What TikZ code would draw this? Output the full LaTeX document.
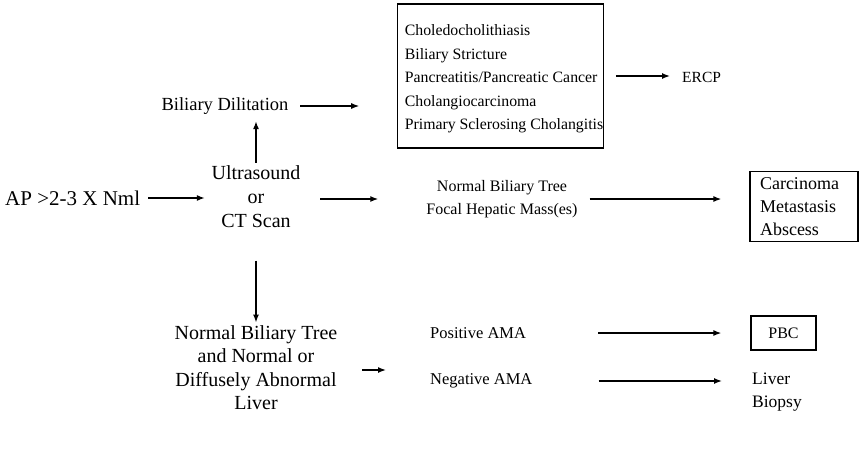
\documentclass[tikz,border=0pt]{standalone}
\usepackage{fontspec}
\setmainfont{Liberation Serif}
\usetikzlibrary{arrows.meta}
\newcommand{\fs}[2]{\fontsize{#1}{#2}\selectfont}
\begin{document}
\begin{tikzpicture}[x=1pt,y=-1pt,
  txt/.style={align=center, inner sep=0pt},
  box/.style={draw, line width=1.2pt, align=left, inner sep=0pt},
  arr/.style={-{Latex[length=8pt,width=6pt]}, line width=1.4pt}]
\useasboundingbox (0,0) rectangle (861,453);

% left column
\node[txt, anchor=west, font=\fs{21}{24}] (ap) at (5,198) {AP >2-3 X Nml};
\node[txt, font=\fs{20}{24}] (us) at (256,196.5) {Ultrasound\\or\\CT Scan};
\node[txt, font=\fs{18.5}{23}] (bd) at (225,106) {Biliary Dilitation};
\node[txt, font=\fs{20}{23.5}] (nl) at (256,367.5) {Normal Biliary Tree\\and Normal or\\Diffusely Abnormal\\Liver};

% upper branch: list of causes, text flush against the right border
\node[box, font=\fs{15.8}{23.5}, minimum width=205pt, minimum height=144pt] (causes) at (500.5,76)
  {\hspace*{7pt}\raisebox{-2pt}[\height][\depth]{\begin{tabular}{@{}l@{}}Choledocholithiasis\\Biliary Stricture\\Pancreatitis/Pancreatic Cancer\\Cholangiocarcinoma\\Primary Sclerosing Cholangitis\end{tabular}}};
\node[txt, anchor=west, font=\fs{15.5}{20}] (ercp) at (682,77.5) {ERCP};

% middle branch
\node[txt, font=\fs{16}{23.5}] (mass) at (502,199) {Normal Biliary Tree\\Focal Hepatic Mass(es)};
\node[box, font=\fs{18}{23}, inner xsep=10pt, text width=88pt, minimum height=70pt] (focal) at (804,206.5)
  {Carcinoma\\Metastasis\\Abscess};

% lower branch
\node[txt, anchor=west, font=\fs{16.5}{20}] (pos) at (430,333) {Positive AMA};
\node[txt, anchor=west, font=\fs{16.5}{20}] (neg) at (430,381) {Negative AMA};
\node[box, font=\fs{16}{20}, minimum width=65pt, minimum height=34pt, align=center] (pbc) at (783.5,333) {PBC};
\node[txt, align=left, anchor=north west, font=\fs{17.5}{23}] (bx) at (752,373) {Liver\\Biopsy};

% connectors
\draw[arr, shorten <=8pt, shorten >=6.5pt] (ap.east) -- (ap.east -| us.west);
\draw[arr, shorten <=2.5pt, shorten >=6.5pt] (us.north) -- (us.north |- bd.south);
\draw[arr, shorten <=33pt, shorten >=2.5pt] (us.south) -- (nl.north);
\draw[arr, shorten <=11.5pt, shorten >=38pt] (bd.east) -- (bd.east -| causes.west);
\draw[arr, shorten <=12pt, shorten >=12pt] (causes.east) -- (causes.east -| ercp.west);
\draw[arr, shorten <=19.6pt, shorten >=48pt] (us.east |- mass.west) -- (mass.west);
\draw[arr, shorten <=12pt, shorten >=28pt] (mass.east) -- (mass.east -| focal.west);
\draw[arr] (nl.east) ++(25,2.5) coordinate (nlout) -- (nlout -| pos.west) [shorten >=44pt];
\draw[arr, shorten <=72pt, shorten >=29pt] (pos.east) -- (pos.east -| pbc.west);
\draw[arr, shorten <=66pt, shorten >=30pt] (neg.east) -- (neg.east -| bx.west);
\end{tikzpicture}
\end{document}
